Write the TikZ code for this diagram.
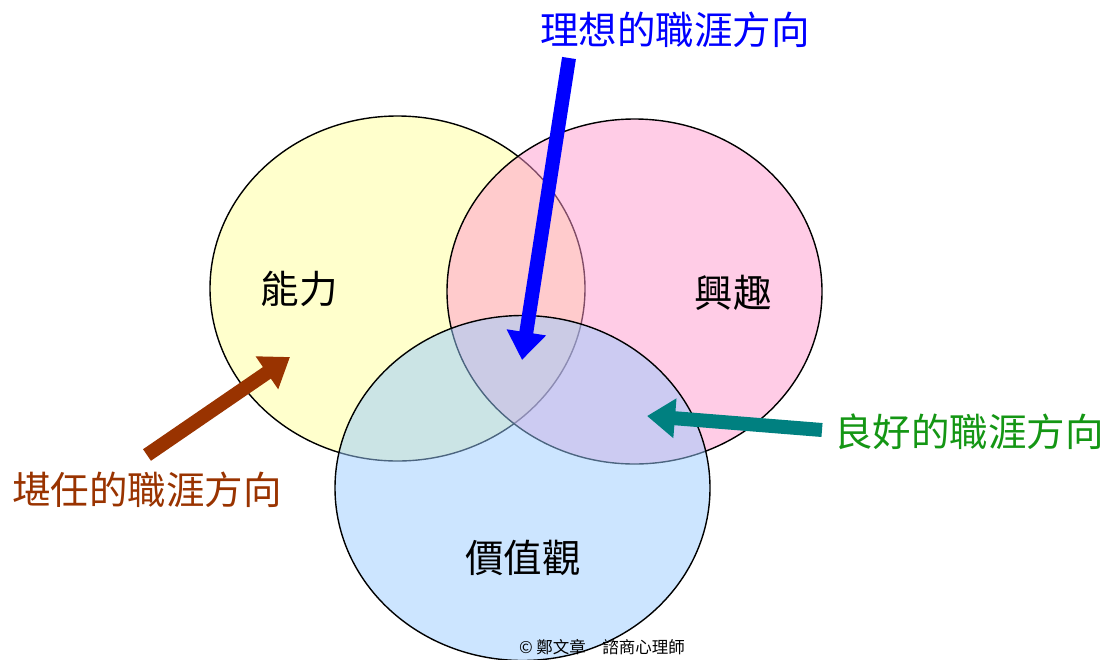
\documentclass[tikz,border=0pt]{standalone}
\usepackage{fontspec}
\setmainfont{Noto Sans CJK TC}
\usetikzlibrary{shapes.geometric,arrows.meta}
\definecolor{yfill}{RGB}{255,255,204}
\definecolor{pfill}{RGB}{255,153,205}
\definecolor{bfill}{RGB}{153,203,255}
\definecolor{bluetxt}{RGB}{0,0,255}
\definecolor{browntxt}{RGB}{153,51,0}
\definecolor{greentxt}{RGB}{20,150,20}
\definecolor{tealarrow}{RGB}{0,128,128}
\tikzset{
  venn/.style={ellipse, draw=black, line width=1.4pt, minimum width=375pt, minimum height=345pt, inner sep=0pt},
  bigtxt/.style={font=\fontsize{38.5}{42}\selectfont, inner sep=0pt},
  fatarrow/.style={line width=14pt, -{Triangle[width=38pt,length=28pt]}},
}
\begin{document}
\begin{tikzpicture}[x=1pt,y=-1pt]
\useasboundingbox (0,0) rectangle (1106,659);
\clip (0,0) rectangle (1106,659);
\node[venn, fill=yfill] (Y) at (397.5,288.5) {};
\node[venn, fill=pfill, fill opacity=0.5] (P) at (634.5,291.5) {};
\node[venn, fill=bfill, fill opacity=0.5] (B) at (522.5,488) {};
\node[bigtxt] (ability) at (299,289) {能力};
\node[bigtxt] (interest) at (733,293) {興趣};
\node[bigtxt] (values) at (523,558) {價值觀};
\node[bigtxt, text=bluetxt] (ideal) at (675,30) {理想的職涯方向};
\node[bigtxt, text=browntxt] (competent) at (147,490) {堪任的職涯方向};
\node[bigtxt, text=greentxt] (good) at (969,432) {良好的職涯方向};
\node[font=\fontsize{16.5}{18}\selectfont, inner sep=0pt] (copy) at (602,647) {© 鄭文章　諮商心理師};
\coordinate (idealTail) at (569,58);
\coordinate (idealTip) at (522,360);
\coordinate (compTail) at (147,455);
\coordinate (compTip) at (290,357);
\coordinate (goodTail) at (822,430);
\coordinate (goodTip) at (647,416);
\draw[fatarrow, draw=bluetxt, fill=bluetxt] (idealTail) -- (idealTip);
\draw[fatarrow, draw=browntxt, fill=browntxt] (compTail) -- (compTip);
\draw[fatarrow, draw=tealarrow, fill=tealarrow] (goodTail) -- (goodTip);
\end{tikzpicture}
\end{document}
